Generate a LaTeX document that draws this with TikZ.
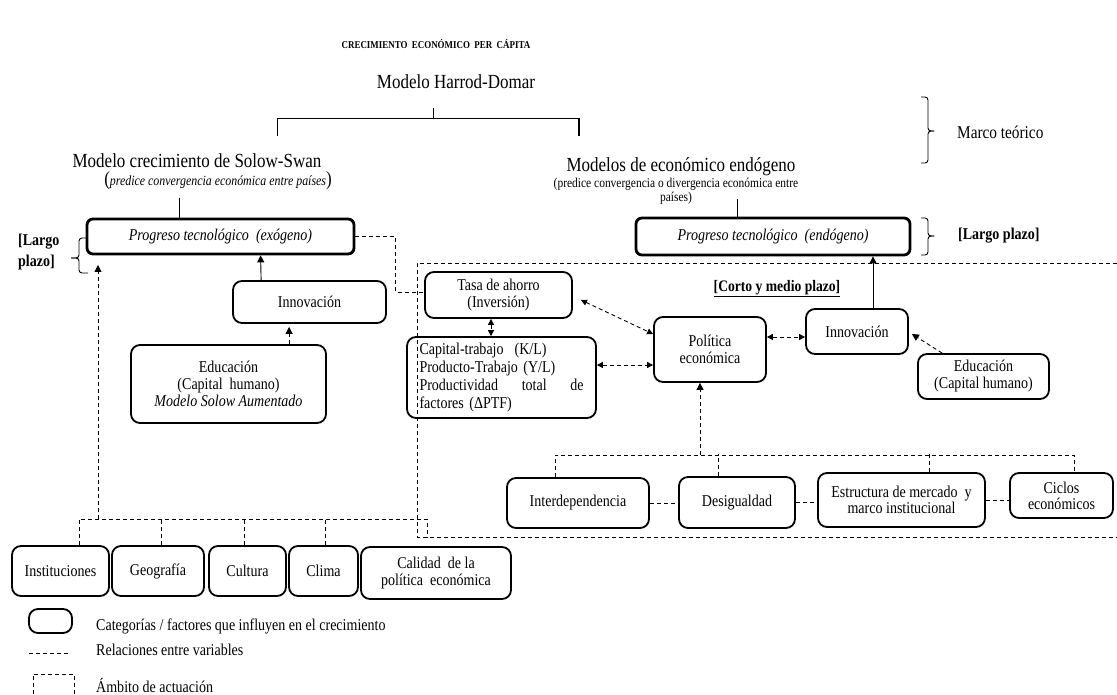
\documentclass[tikz,border=0pt]{standalone}
\usepackage{fontspec}
\setmainfont{Liberation Serif}[FakeStretch=0.85]
\usetikzlibrary{arrows.meta,calc}
\newcommand\fsz[2]{\fontsize{#1}{#2}\selectfont}
\begin{document}
\begin{tikzpicture}[x=1pt,y=-1pt,
 box/.style={draw, line width=1.8pt, rounded corners=9pt, align=center, inner sep=0pt, font=\fsz{16.5}{17}},
 tbox/.style={draw, line width=2.8pt, rounded corners=6pt, align=center, inner sep=0pt, font=\fsz{16.5}{17}\itshape},
 wh/.style 2 args={minimum width=#1, minimum height=#2},
 rel/.style={line width=0.9pt, dash pattern=on 4pt off 3pt},
 ln/.style={line width=0.9pt},
 tip/.style={-{Triangle[length=7pt,width=7pt]}},
 dtip/.style={{Triangle[length=6pt,width=6pt]}-{Triangle[length=6pt,width=6pt]}},
 lbl/.style={inner sep=0pt, align=center},
]
\useasboundingbox (0,0) rectangle (1117,695);

% titles
\node[lbl, font=\fsz{10.5}{12}\bfseries] (title) at (436,44) {CRECIMIENTO~~ECONÓMICO~~PER~~CÁPITA};
\node[lbl, font=\fsz{20}{22}] (harrod) at (456,82) {Modelo Harrod-Domar};
\node[lbl, font=\fsz{20}{22}] (solow) at (197,161) {Modelo crecimiento de Solow-Swan};
\node[lbl] (solowsub) at (218,181) {{\fsz{20}{22}(}{\fsz{14}{15}\itshape predice convergencia económica entre países}{\fsz{20}{22})}};
\node[lbl, font=\fsz{20}{22}] (endo) at (681,167) {Modelos de económico endógeno};
\node[lbl, font=\fsz{13.5}{14}] (endosub) at (676,191) {(predice convergencia o divergencia económica entre\\países)};
\node[lbl, font=\fsz{18}{20}, anchor=west] (marco) at (957,132) {Marco teórico};
\node[lbl, font=\fsz{16.5}{21}\bfseries, align=left, anchor=west] (largoL) at (18,252) {[Largo\\plazo]};
\node[lbl, font=\fsz{16.5}{17}\bfseries, anchor=west] (largoR) at (958,236) {[Largo plazo]};
\node[lbl, font=\fsz{16}{17}\bfseries] (corto) at (777,289) {\underline{[Corto y medio plazo]}};

% Harrod bracket
\draw[ln] (433,108) -- (433,118);
\draw[ln] (277,136) -- (277,118) -- (579,118);
\draw[line width=1.4pt] (579,118) -- (579,136);

% braces
\draw[ln, rounded corners=3pt] (921,97) -- (928,97) -- (928,131) -- (934,131);
\draw[ln, rounded corners=3pt] (934,131) -- (928,131) -- (928,163) -- (921,163);
\draw[ln, rounded corners=3pt] (921,218) -- (928,218) -- (928,236) -- (934,236);
\draw[ln, rounded corners=3pt] (934,236) -- (928,236) -- (928,255) -- (921,255);
\draw[ln, rounded corners=3pt] (87,238) -- (79,238) -- (79,258) -- (71,258);
\draw[ln, rounded corners=3pt] (71,258) -- (79,258) -- (79,273) -- (88,273);

% main boxes
\node[tbox, wh={267}{35}] (exog) at (220.5,236.5) {Progreso tecnológico~~(exógeno)};
\node[tbox, wh={274}{37}] (endog) at (773,236.5) {Progreso tecnológico~~(endógeno)};
\node[box, wh={153}{42}] (innovL) at (309.5,302) {Innovación};
\node[box, wh={195}{78}] (educL) at (228.5,384) {Educación\\(Capital~~humano)\\\textit{Modelo Solow Aumentado}};
\node[box, wh={147}{46}] (tasa) at (498.5,295) {Tasa de ahorro\\(Inversión)};
\node[box, wh={189}{81}, align=left, text width=164pt, font=\fsz{16.5}{17.7}] (kl) at (501.5,377.5) {Capital-trabajo~~(K/L)\\Producto-Trabajo (Y/L)\\Productividad\hfill total\hfill de\\factores (ΔPTF)};
\node[box, wh={112}{65}] (pol) at (710,349.5) {Política\\económica};
\node[box, wh={102}{45}] (innovR) at (857,331.5) {Innovación};
\node[box, wh={131}{45}] (educR) at (983.5,376.5) {Educación\\(Capital humano)};
\node[box, wh={142}{50}] (inter) at (578,503) {Interdependencia};
\node[box, wh={116}{51}] (desig) at (737,502.5) {Desigualdad};
\node[box, wh={167}{54}, font=\fsz{16.5}{16}] (estr) at (901.5,500) {Estructura de mercado~~y\\marco institucional};
\node[box, wh={103}{45}, font=\fsz{16.5}{16}] (ciclos) at (1061.5,495.5) {Ciclos\\económicos};
\node[box, wh={97}{50}] (inst) at (60.5,571) {Instituciones};
\node[box, wh={92}{50}] (geo) at (158,571) {Geografía};
\node[box, wh={77}{50}] (cult) at (247.5,571) {Cultura};
\node[box, wh={69}{50}] (clima) at (323.5,571) {Clima};
\node[box, wh={150}{52}] (calidad) at (436,573) {Calidad~~de la\\política~~económica};

% connectors (solid)
\draw[ln] ([xshift=94pt,yshift=20pt]exog.north west) -- ([xshift=94pt]exog.north west);
\draw[ln] (737,199) -- ([xshift=-36pt]endog.north);
\draw[ln, tip] ([xshift=29pt]innovL.north west) -- ([xshift=175pt]exog.south west);
\draw[ln, tip] ([xshift=16pt]innovR.north) -- ([xshift=100pt]endog.south);

% dashed connectors
\draw[rel, tip] ([xshift=159pt]educL.north west) -- ([xshift=57pt,yshift=-3pt]innovL.south west);
\draw[rel] (exog.east) -- ++(40,0) |- ([yshift=3pt]tasa.west);
\draw[rel] (1117,263) -| (417,537) -- (1117,537);
\draw[rel, dtip] ([xshift=-7.5pt]tasa.south) -- ([xshift=-10.5pt]kl.north);
\draw[rel, dtip] ([xshift=8pt,yshift=-5pt]tasa.east) -- ([yshift=15.5pt]pol.west);
\draw[rel, dtip] ([yshift=12.5pt]kl.east) -- ([yshift=-15.5pt]pol.west);
\draw[rel, dtip] ([yshift=12.5pt]pol.east) -- ([yshift=-5.5pt]innovR.west);
\draw[rel, tip] ([xshift=25pt]educR.north west) -- ([xshift=3pt,yshift=-2.5pt]innovR.east);

% right tree
\coordinate (rj) at (700,455);
\draw[rel, tip] (rj) -- ([xshift=-10pt]pol.south);
\draw[rel] ([xshift=-23pt]inter.north) |- (rj) -| ([xshift=12.5pt]ciclos.north);
\draw[rel] ([xshift=-19pt]desig.north) -- ++(0,-22);
\draw[rel] ([xshift=27.5pt]estr.north) -- ++(0,-18);
\draw[rel] (inter.east) -- (inter.east -| desig.west);
\draw[rel] (desig.east) -- (desig.east -| estr.west);
\draw[rel] (estr.east) -- (estr.east -| ciclos.west);

% left tree
\coordinate (bl) at (427,519);
\coordinate (bl2) at (427,537);
\coordinate (lj) at (98,519);
\coordinate (lt) at (98,265);
\draw[rel, tip] (lj) -- (lt);
\draw[rel] ([xshift=18.5pt]inst.north) |- (bl) -- (bl2);
\draw[rel] ([xshift=3pt]geo.north) -- ++(0,-27);
\draw[rel] ([xshift=-3.5pt]cult.north) -- ++(0,-27);
\draw[rel] ([xshift=1.5pt]clima.north) -- ++(0,-27);

% legend
\node[box, wh={43}{24}] (legbox) at (50.5,621) {};
\node[lbl, font=\fsz{16.5}{17}, anchor=west] (leg1) at (96,626) {Categorías / factores que influyen en el crecimiento};
\coordinate (ld1) at (29,653);
\coordinate (ld2) at (70,653);
\draw[rel] (ld1) -- (ld2);
\node[lbl, font=\fsz{16.5}{17}, anchor=west] (leg2) at (96,650) {Relaciones entre variables};
\draw[rel] (33,694) -- (33,674) -- (74,674) -- (74,694);
\node[lbl, font=\fsz{16.5}{17}, anchor=west] (leg3) at (96,685) {Ámbito de actuación};
\end{tikzpicture}
\end{document}
